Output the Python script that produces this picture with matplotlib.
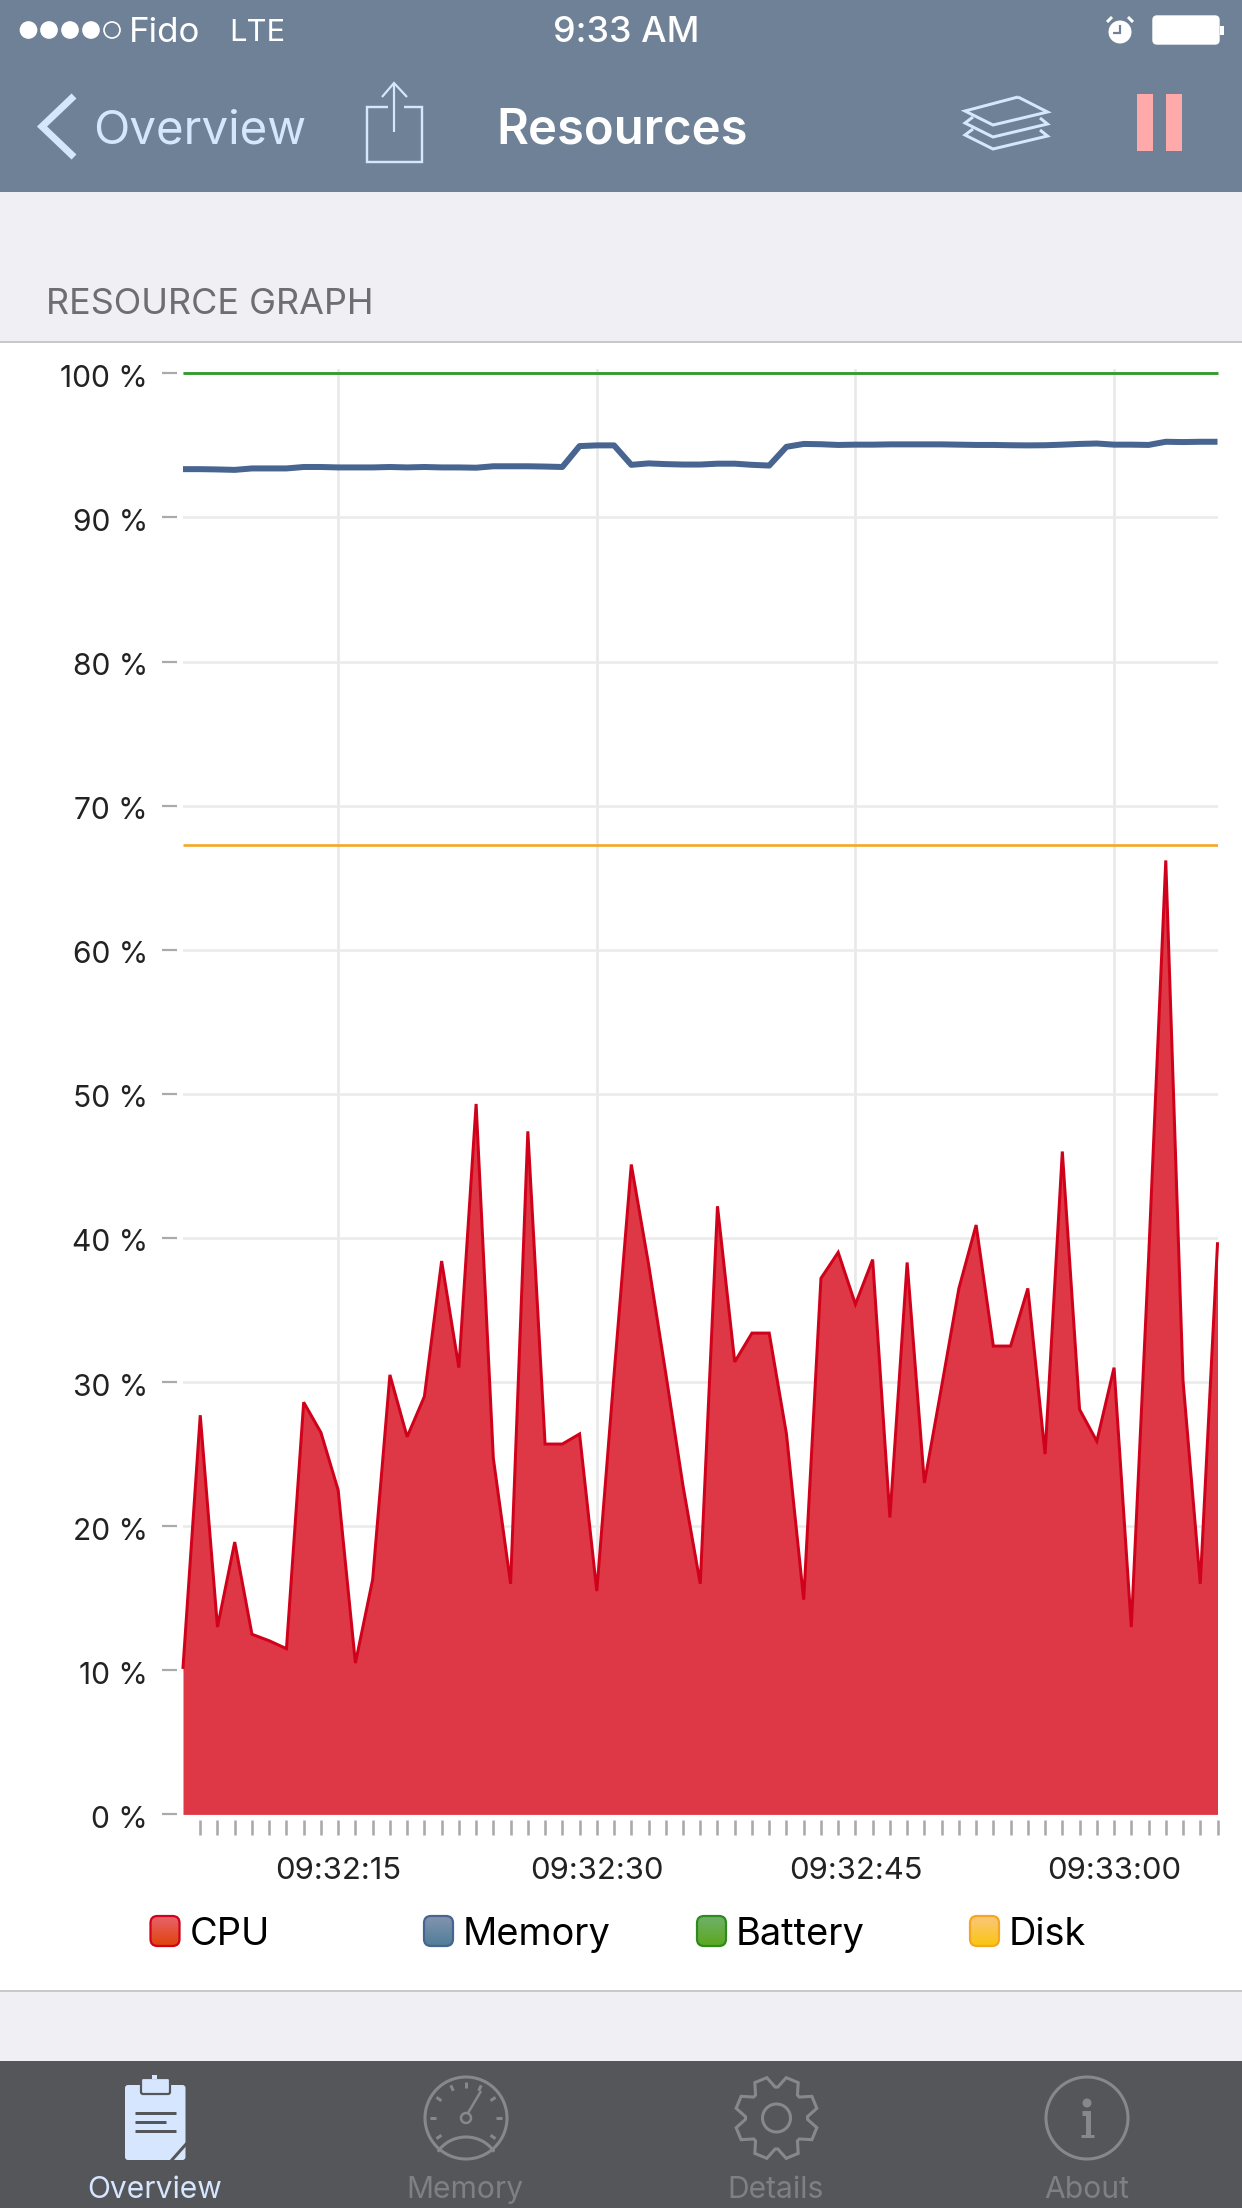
import numpy as np
import matplotlib
matplotlib.use("Agg")
import matplotlib.pyplot as plt
from matplotlib.patches import Rectangle, Circle, FancyBboxPatch, Polygon, Arc
from matplotlib.colors import LinearSegmentedColormap
from matplotlib.transforms import ScaledTranslation

cpu = [10.2, 27.7, 13.0, 18.9, 12.5, 12.05, 11.5, 28.6, 26.5, 22.5, 10.5, 16.3, 30.5, 26.2, 29.0,
       38.4, 31.0, 49.3, 24.7, 16.0, 47.4, 25.7, 25.7, 26.4, 15.5, 30.5, 45.1, 38.2, 30.6, 22.8,
       16.0, 42.2, 31.4, 33.4, 33.4, 26.4, 14.9, 37.2, 39.0, 35.4, 38.5, 20.6, 38.3, 23.0, 29.7,
       36.5, 40.9, 32.5, 32.5, 36.5, 25.0, 46.0, 28.1, 25.9, 31.0, 13.0, 38.5, 66.2, 30.1, 16.0, 39.6]
memory = [93.35, 93.35, 93.33, 93.3, 93.4, 93.4, 93.4, 93.5, 93.5, 93.47, 93.47, 93.47, 93.5, 93.47, 93.5,
          93.47, 93.47, 93.45, 93.55, 93.55, 93.55, 93.53, 93.5, 94.95, 95.0, 95.0, 93.65, 93.75, 93.7, 93.67,
          93.67, 93.73, 93.73, 93.65, 93.6, 94.9, 95.1, 95.08, 95.03, 95.05, 95.05, 95.07, 95.07, 95.07, 95.07,
          95.05, 95.03, 95.03, 95.01, 95.0, 95.01, 95.05, 95.1, 95.13, 95.05, 95.05, 95.03, 95.25, 95.23, 95.25, 95.25]
battery = [100.0] * 61
disk = [67.3] * 61
seconds = list(range(61))
y_ticks = [0, 10, 20, 30, 40, 50, 60, 70, 80, 90, 100]
x_tick_positions = list(range(1, 61))
time_labels = {9: "09:32:15", 24: "09:32:30", 39: "09:32:45", 54: "09:33:00"}
series_names = ["CPU", "Memory", "Battery", "Disk"]
tab_names = ["Overview", "Memory", "Details", "About"]

W, H = 1242, 2208
FONT = "Inter"
plt.rcParams["font.family"] = [FONT, "DejaVu Sans"]
PX = 0.72  # points per pixel at dpi 100

NAV = "#6F8196"
PALE = "#D6E6FF"
BG = "#EFEFF4"
TAB = "#55565A"
TABGREY = "#88888B"

fig = plt.figure(figsize=(W / 100, H / 100), dpi=100, facecolor="white")
ov = fig.add_axes([0, 0, 1, 1], zorder=0)
ov.set_xlim(0, W)
ov.set_ylim(H, 0)
ov.axis("off")


def rect(x0, y0, x1, y1, c, **k):
    ov.add_patch(Rectangle((x0, y0), x1 - x0, y1 - y0, fc=c, ec="none", **k))


def txt(x, y, s, px, c, ha="left", weight="normal", **k):
    ov.text(x, y, s, fontsize=px * PX, color=c, ha=ha, va="center", fontweight=weight, **k)


def pl(xs, ys, c, lw=2.0, **k):
    ov.plot(xs, ys, color=c, lw=lw * PX, solid_capstyle=k.pop("cap", "butt"),
            solid_joinstyle=k.pop("join", "miter"), **k)


# page backgrounds
rect(0, 0, W, 192, NAV)
rect(0, 192, W, 342, BG)
rect(0, 342, W, 1991, "white")
rect(0, 1991, W, 2061, BG)
rect(0, 2061, W, H, TAB)
pl([0, W], [342, 342], "#C8C7CC", 2)
pl([0, W], [1991, 1991], "#C8C7CC", 2)

# status bar
for i, x in enumerate([28.5, 49, 70, 91, 112]):
    ov.add_patch(Circle((x, 30), 8, fc="white" if i < 4 else "none", ec="white", lw=1.2))
txt(129, 33, "Fido", 35, "white")
txt(229, 33, "LTE", 31, "white")
txt(626, 33, "9:33 AM", 36, "white", ha="center", weight="medium")
ov.add_patch(Circle((1120, 32), 11.5, fc="white", ec="none"))
pl([1120, 1120, 1113], [25, 33, 33], NAV, 2.2)
pl([1107, 1112], [22, 17], "white", 3)
pl([1133, 1128], [22, 17], "white", 3)
ov.add_patch(FancyBboxPatch((1153, 16), 66, 28, boxstyle="round,pad=0,rounding_size=4", fc="white", ec="white", lw=1))
ov.add_patch(Rectangle((1220, 26), 4, 9, fc="white", ec="none"))

# navigation bar
pl([74, 42, 74], [96, 126.5, 157], PALE, 7)
txt(93, 131, "Overview", 47.5, PALE)
pl([388, 367, 367, 422, 422, 404], [107, 107, 162, 162, 107, 107], PALE, 2.4)
pl([394, 394], [84, 132], PALE, 2.2)
pl([382, 394, 407], [97, 83, 97], PALE, 2.2)
txt(496, 131, "Resources", 49, "white", weight="semibold")
pl([1018, 1047.5, 993, 965, 1018], [97, 112, 125, 111, 97], PALE, 3)
pl([973, 965, 993, 1047.5, 1040], [117, 123, 137, 124, 118], PALE, 3)
pl([973, 965, 993, 1047.5, 1040], [129, 135, 149, 136, 130], PALE, 3)
rect(1137, 94, 1153, 151, "#FFAAAA")
rect(1166, 94, 1182, 151, "#FFAAAA")

txt(46, 305, "RESOURCE GRAPH", 36, "#6D6D72")

# chart
LEFT, RIGHT, Y0, Y_TOP = 183.0, 1217.5, 1814.4, 369.0
ax = fig.add_axes([LEFT / W, 1 - Y0 / H, (RIGHT - LEFT) / W, (Y0 - Y_TOP) / H], zorder=1)
ax.patch.set_visible(False)
ax.set_xlim(0, 60)
ax.set_ylim(0, 100.3)
for s in ["top", "right"]:
    ax.spines[s].set_visible(False)
for s in ["left", "bottom"]:
    ax.spines[s].set_position(("outward", 6 * PX))
    ax.spines[s].set_visible(False)
ax.set_axisbelow(True)
ax.set_yticks(y_ticks, [f"{v} %" for v in y_ticks])
ax.set_xticks(x_tick_positions, [time_labels.get(i, "") for i in x_tick_positions])
ax.tick_params(axis="y", length=15 * PX, width=2.2 * PX, color="#AAAAAA", pad=14 * PX,
               labelsize=30 * PX, labelcolor="#222222")
ax.tick_params(axis="x", length=15 * PX, width=2.6 * PX, color="#AAAAAA", pad=22 * PX,
               labelsize=31 * PX, labelcolor="#222222")
for lab in ax.get_yticklabels():
    lab.set_transform(lab.get_transform() + ScaledTranslation(0, -2.5 / 100, fig.dpi_scale_trans))
ax.grid(axis="y", color="#EBEBEB", lw=2.6 * PX)
for i in time_labels:
    ax.axvline(i, color="#E8E8E8", lw=2.6 * PX, zorder=0.5)
ax.fill_between(seconds, cpu, 0, color="#DE3745", lw=0, zorder=2)
ax.plot(seconds, cpu, color="#D0021B", lw=3.0 * PX, zorder=3, solid_joinstyle="miter", clip_on=False)
ax.plot(seconds, memory, color="#476590", lw=6.0 * PX, zorder=3, solid_joinstyle="round", solid_capstyle="butt")
ax.plot(seconds, battery, color="#2E9A2A", lw=2.8 * PX, zorder=3, clip_on=False, solid_capstyle="butt")
ax.plot(seconds, disk, color="#F5A623", lw=2.6 * PX, zorder=3, solid_capstyle="butt")

# legend
sw = [(150.5, 190), (424, 463), (697, 736), (970, 1009)]
sw_grad = [("#E9636C", "#E0420A", "#D0021B"), ("#8494AF", "#4F7E98", "#476590"),
           ("#70B06A", "#5CA81E", "#2E8B1E"), ("#FBC67C", "#F9C60F", "#F5A623")]
for name, (x, tx), (c0, c1, ec) in zip(series_names, sw, sw_grad):
    cm = LinearSegmentedColormap.from_list("g", [c0, c1])
    clip = FancyBboxPatch((x, 1916), 29, 30, boxstyle="round,pad=0,rounding_size=7", fc="none", ec=ec, lw=1.6, zorder=3)
    ov.add_patch(clip)
    im = ov.imshow(np.linspace(0, 1, 40)[:, None], cmap=cm, extent=(x, x + 29, 1946, 1916),
                   aspect="auto", zorder=2)
    im.set_clip_path(clip)
    txt(tx, 1935, name, 38, "black")
ov.set_xlim(0, W)
ov.set_ylim(H, 0)

# tab bar: Overview
ov.add_patch(FancyBboxPatch((125, 2085), 60.5, 75, boxstyle="round,pad=0,rounding_size=3", fc=PALE, ec="none"))
ov.add_patch(FancyBboxPatch((141, 2078), 29, 16, boxstyle="round,pad=0,rounding_size=2", fc=PALE, ec=TAB, lw=1.6))
rect(152, 2075, 157, 2079, PALE)
pl([135, 176], [2113, 2113], TAB, 3)
pl([135, 166], [2122, 2122], TAB, 3)
pl([135, 176], [2131, 2131], TAB, 3)
pl([187, 171], [2143, 2161], TAB, 3)
# Memory gauge
cx, cy = 466, 2118
ov.add_patch(Circle((cx, cy), 41, fc="none", ec=TABGREY, lw=2.2))
for a in [0, 35, 65, 90, 115, 145, 180, 215, 325]:
    r = np.radians(a)
    pl([cx + 30 * np.cos(r), cx + 36 * np.cos(r)], [cy - 30 * np.sin(r), cy - 36 * np.sin(r)], TABGREY, 3)
ov.add_patch(Circle((cx, cy), 5, fc="none", ec=TABGREY, lw=1.8))
pl([cx + 2, cx + 15], [cy - 5, cy - 27], TABGREY, 2.5)
ov.add_patch(Arc((cx, 2168), 66, 62, theta1=210, theta2=330, ec=TABGREY, lw=2.2))
# Details gear
gx, gy = 776.5, 2118
angs, rads = [], []
for k in range(8):
    base = k * 45 + 22.5
    angs += [base - 20, base - 9, base + 9, base + 20]
    rads += [31, 41.5, 41.5, 31]
gear = [(gx + rr * np.cos(np.radians(a)), gy + rr * np.sin(np.radians(a))) for a, rr in zip(angs, rads)]
ov.add_patch(Polygon(gear, closed=True, fc="none", ec=TABGREY, lw=2.2))
ov.add_patch(Circle((gx, gy), 14, fc="none", ec=TABGREY, lw=2.2))
# About
ax_, ay_ = 1087, 2118
ov.add_patch(Circle((ax_, ay_), 41, fc="none", ec=TABGREY, lw=2.2))
ov.add_patch(Circle((ax_, 2103), 4.5, fc=TABGREY, ec="none"))
pl([ax_ - 5, ax_ + 1, ax_ + 1], [2113, 2113, 2136], TABGREY, 5)
pl([ax_ - 6, ax_ + 7], [2136, 2136], TABGREY, 3)

for name, x, c in zip(tab_names, [155, 465, 776, 1087], [PALE, "#808084", "#808084", "#808084"]):
    txt(x, 2190, name, 30, c, ha="center")

fig.savefig("out.png", dpi=100, facecolor="white")
